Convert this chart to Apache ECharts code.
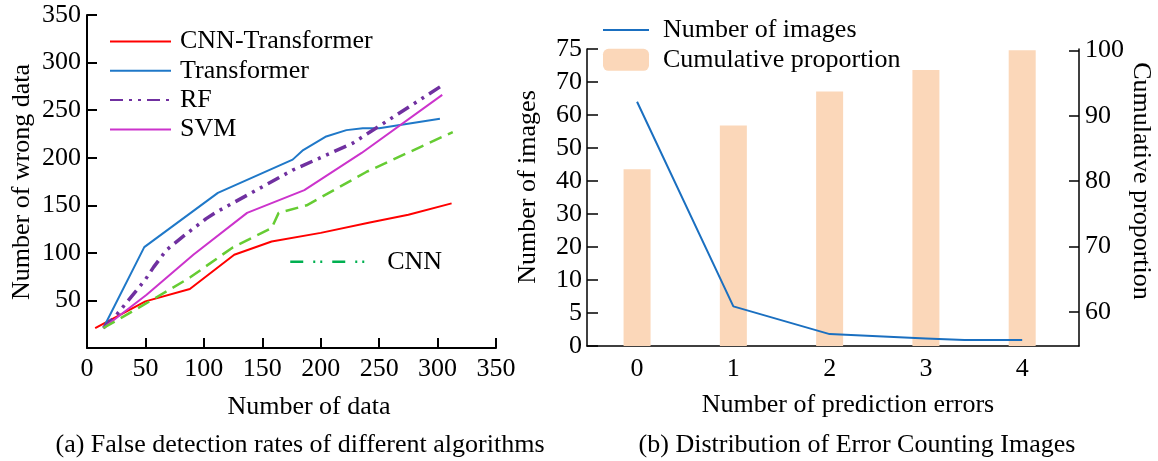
<!DOCTYPE html>
<html>
<head>
<meta charset="utf-8">
<script src="https://cdn.jsdelivr.net/npm/echarts@6/dist/echarts.min.js"></script>
<style>
  html, body { margin: 0; padding: 0; background: #fff; }
  #main { width: 1158px; height: 461px; }
</style>
</head>
<body>
<div id="main"></div>
<script>
// (a) 各算法误检数据
const cnnTransX = [7, 50, 88, 126, 158, 200, 242, 275, 312]
const cnnTransY = [21, 49, 62, 98, 112, 121, 132, 140, 152]
const transX = [14, 49, 112, 176, 185, 204, 222, 236, 250, 302]
const transY = [21, 106, 163, 198, 208, 222, 229, 231, 231, 241]
const rfX = [14, 24, 50, 57, 68, 84, 102, 111, 176, 227, 304]
const rfY = [21, 33, 72, 85, 103, 119, 136, 143, 187, 215, 276]
const svmX = [14, 51, 91, 137, 186, 235, 304]
const svmY = [21, 56, 98, 142, 166, 205, 266]
const cnnX = [14, 48, 88, 125, 158, 164, 188, 239, 313]
const cnnY = [21, 45, 74, 106, 126, 142, 150, 185, 227]

// (b) 错误数分布
const errorCats = [0, 1, 2, 3, 4]
const cumProportion = [81.8, 88.5, 93.7, 97.0, 100]
const imageX = [0, 1, 2, 3, 3.4, 4]
const imageCount = [64, 6, 1.8, 1.15, 0.9, 0.9]
// 左轴刻度不等距
const imageTicks = [0, 5, 10, 20, 30, 40, 50, 60, 70, 75]
const propTicks = [60, 70, 80, 90, 100]

const FONT = '"Liberation Serif", serif'

function pairs(xs, ys) {
  return xs.map((x, i) => [x, ys[i]])
}
// 按分段刻度换算到轴上的位置
function toTickPos(v) {
  for (let i = 0; i < imageTicks.length - 1; i++) {
    if (v <= imageTicks[i + 1]) {
      return i + (v - imageTicks[i]) / (imageTicks[i + 1] - imageTicks[i])
    }
  }
  return imageTicks.length - 1
}

const axisBase = {
  axisLine: { onZero: false, lineStyle: { color: '#000', width: 2 } },
  axisTick: { inside: true, length: 10, lineStyle: { color: '#000', width: 2 } },
  splitLine: { show: false },
  axisLabel: { color: '#000', fontFamily: FONT, fontSize: 26 }
}
const thinLine = { onZero: false, lineStyle: { color: '#000', width: 1.5 } }
const noSymbol = { opacity: 0 }
const legendText = { fontFamily: FONT, fontSize: 26, color: '#000' }

function lineSeries(name, data, color, width, type) {
  return {
    name: name,
    type: 'line',
    xAxisIndex: 0,
    yAxisIndex: 0,
    symbol: 'none',
    data: data,
    lineStyle: { color: color, width: width, type: type || 'solid' },
    itemStyle: { color: color },
    z: 3
  }
}

var option = {
  backgroundColor: '#ffffff',
  animation: false,
  textStyle: { fontFamily: FONT },
  grid: [
    { left: 87, right: 662, top: 15, bottom: 113 },
    { left: 587, right: 79, top: 49, bottom: 115 }
  ],
  legend: [
    {
      orient: 'vertical',
      left: 109,
      top: 28.5,
      padding: 0,
      itemWidth: 61,
      itemHeight: 14,
      itemGap: 3.3,
      textStyle: Object.assign({ padding: [0, 0, 0, 4] }, legendText),
      data: [
        { name: 'CNN-Transformer', itemStyle: noSymbol },
        { name: 'Transformer', itemStyle: noSymbol },
        { name: 'RF', itemStyle: noSymbol },
        { name: 'SVM', itemStyle: noSymbol }
      ]
    },
    {
      left: 289,
      top: 248.7,
      padding: 0,
      itemWidth: 78,
      itemHeight: 14,
      textStyle: Object.assign({ padding: [0, 0, 0, 14] }, legendText),
      data: [{ name: 'CNN', itemStyle: noSymbol, lineStyle: { color: '#00b050', width: 2.5, type: [13, 10, 2, 5, 2, 10] } }]
    },
    {
      orient: 'vertical',
      left: 602,
      top: 17,
      padding: 0,
      itemWidth: 46,
      itemHeight: 22,
      itemGap: 3.8,
      textStyle: Object.assign({ padding: [0, 0, 0, 9] }, legendText),
      data: [{ name: 'Number of images', itemStyle: noSymbol }, 'Cumulative proportion']
    }
  ],
  xAxis: [
    Object.assign({}, axisBase, {
      type: 'value',
      gridIndex: 0,
      min: 0,
      max: 350,
      interval: 50,
      axisLabel: Object.assign({}, axisBase.axisLabel, { margin: 8 })
    }),
    Object.assign({}, axisBase, {
      type: 'value',
      gridIndex: 1,
      min: -0.52,
      max: 4.59,
      axisLine: thinLine,
      axisTick: { show: false },
      axisLabel: Object.assign({}, axisBase.axisLabel, { margin: 10, customValues: errorCats })
    })
  ],
  yAxis: [
    Object.assign({}, axisBase, {
      type: 'value',
      gridIndex: 0,
      min: 0,
      max: 350,
      interval: 50,
      axisLabel: Object.assign({}, axisBase.axisLabel, {
        margin: 6,
        formatter: v => (v === 0 ? '' : v)
      })
    }),
    Object.assign({}, axisBase, {
      type: 'value',
      gridIndex: 1,
      min: 0,
      max: imageTicks.length - 1,
      interval: 1,
      axisLine: thinLine,
      axisTick: { inside: true, length: 11, lineStyle: { color: '#000', width: 1.5 } },
      axisLabel: Object.assign({}, axisBase.axisLabel, {
        margin: 5,
        formatter: v => imageTicks[Math.round(v)]
      })
    }),
    Object.assign({}, axisBase, {
      type: 'value',
      gridIndex: 1,
      position: 'right',
      min: 54.8,
      max: 100.2,
      axisLine: Object.assign({ show: true }, thinLine),
      axisTick: { inside: true, length: 10, customValues: propTicks, lineStyle: { color: '#000', width: 1.5 } },
      axisLabel: Object.assign({}, axisBase.axisLabel, { margin: 6, customValues: propTicks })
    })
  ],
  series: [
    lineSeries('CNN-Transformer', pairs(cnnTransX, cnnTransY), '#ff0000', 2),
    lineSeries('Transformer', pairs(transX, transY), '#1f78c8', 2),
    lineSeries('RF', pairs(rfX, rfY), '#7030a0', 3.5, [13, 6, 3, 6, 3, 6]),
    lineSeries('SVM', pairs(svmX, svmY), '#cc33cc', 2),
    lineSeries('CNN', pairs(cnnX, cnnY), '#66cc33', 2.5, [13, 7]),
    {
      name: 'Cumulative proportion',
      type: 'bar',
      xAxisIndex: 1,
      yAxisIndex: 2,
      barWidth: 27,
      data: pairs(errorCats, cumProportion),
      itemStyle: { color: '#fbd7b9' },
      z: 1
    },
    {
      name: 'Number of images',
      type: 'line',
      xAxisIndex: 1,
      yAxisIndex: 1,
      symbol: 'none',
      data: imageX.map((x, i) => [x, toTickPos(imageCount[i])]),
      lineStyle: { color: '#1a6fc0', width: 2 },
      itemStyle: { color: '#1a6fc0' },
      z: 3
    }
  ],
  graphic: [
    { type: 'text', x: 22, y: 182, rotation: Math.PI / 2, style: { text: 'Number of wrong data', font: '26px "Liberation Serif"', fill: '#000', textAlign: 'center', textVerticalAlign: 'middle' } },
    { type: 'text', x: 309, y: 407, style: { text: 'Number of data', font: '26px "Liberation Serif"', fill: '#000', textAlign: 'center', textVerticalAlign: 'middle' } },
    { type: 'text', x: 300, y: 445, style: { text: '(a) False detection rates of different algorithms', font: '26px "Liberation Serif"', fill: '#000', textAlign: 'center', textVerticalAlign: 'middle' } },
    { type: 'text', x: 528, y: 187, rotation: Math.PI / 2, style: { text: 'Number of images', font: '26px "Liberation Serif"', fill: '#000', textAlign: 'center', textVerticalAlign: 'middle' } },
    { type: 'text', x: 1141, y: 181, rotation: -Math.PI / 2, style: { text: 'Cumulative proportion', font: '26px "Liberation Serif"', fill: '#000', textAlign: 'center', textVerticalAlign: 'middle' } },
    { type: 'text', x: 848, y: 405, style: { text: 'Number of prediction errors', font: '26px "Liberation Serif"', fill: '#000', textAlign: 'center', textVerticalAlign: 'middle' } },
    { type: 'text', x: 857, y: 445, style: { text: '(b) Distribution of Error Counting Images', font: '26px "Liberation Serif"', fill: '#000', textAlign: 'center', textVerticalAlign: 'middle' } }
  ]
}

var chart = echarts.init(document.getElementById('main'))
chart.setOption(option)
</script>
</body>
</html>
